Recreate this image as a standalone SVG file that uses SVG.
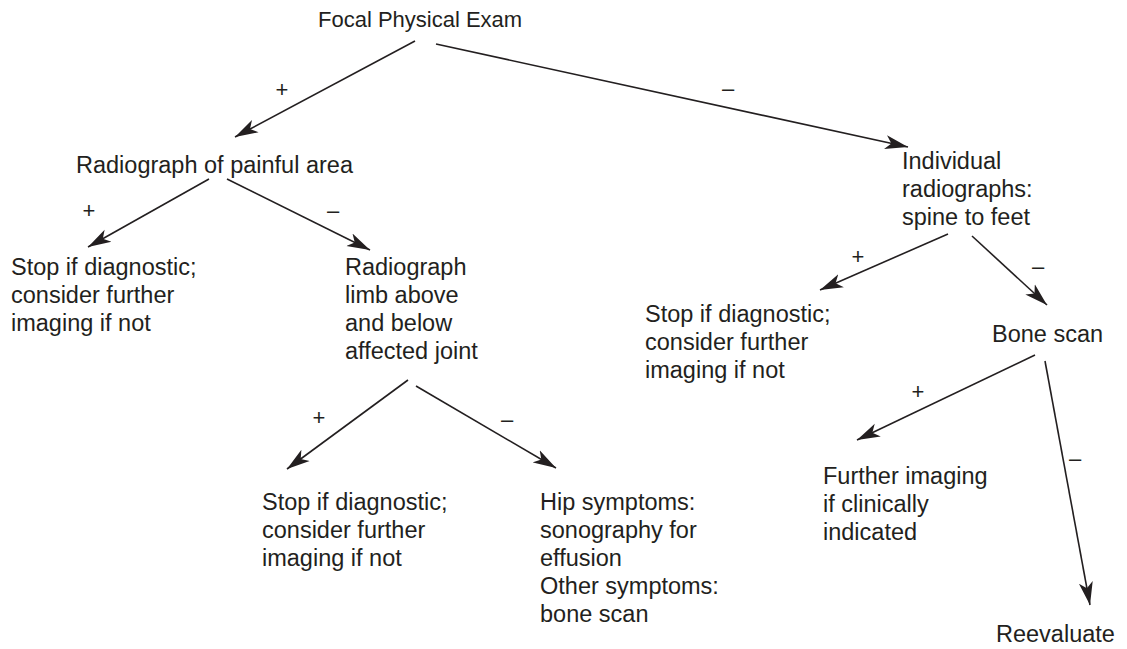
<svg xmlns="http://www.w3.org/2000/svg" width="1127" height="649" viewBox="0 0 1127 649">
  <defs>
    <style>
      .t { font-family: "Liberation Sans", Arial, sans-serif; font-size: 23.5px; fill: #231f20; }
      .l { font-family: "Liberation Sans", Arial, sans-serif; font-size: 22px; fill: #231f20; text-anchor: middle; }
      .c { stroke: #231f20; stroke-width: 1.6; fill: none; }
      .a { marker-end: url(#arr); }
    </style>
    <marker id="arr" markerUnits="userSpaceOnUse" markerWidth="24" markerHeight="16" viewBox="0 0 24 16" refX="23" refY="8" orient="auto">
      <path d="M0,1 L23,8 L0,15 L6,8 z" fill="#231f20"/>
    </marker>
  </defs>
  <rect width="1127" height="649" fill="#ffffff"/>

  <g id="connectors">
    <line class="c a" x1="415" y1="41" x2="235" y2="137"/>
    <line class="c a" x1="436" y1="44" x2="908" y2="147"/>
    <line class="c a" x1="209" y1="179" x2="88" y2="247"/>
    <line class="c a" x1="227" y1="179" x2="370" y2="250"/>
    <line class="c a" x1="408" y1="380" x2="287" y2="469"/>
    <line class="c a" x1="416" y1="386" x2="556" y2="468"/>
    <line class="c a" x1="948" y1="234" x2="820" y2="290"/>
    <line class="c a" x1="972" y1="236" x2="1047" y2="305"/>
    <line class="c a" x1="1035" y1="355" x2="857" y2="440"/>
    <line class="c a" x1="1045" y1="361" x2="1090" y2="605"/>
    <text class="l" x="282" y="97">+</text>
    <text class="l" x="728" y="96">–</text>
    <text class="l" x="89" y="218">+</text>
    <text class="l" x="333" y="218">–</text>
    <text class="l" x="319" y="425">+</text>
    <text class="l" x="507" y="427">–</text>
    <text class="l" x="858" y="264">+</text>
    <text class="l" x="1038" y="274">–</text>
    <text class="l" x="918" y="399">+</text>
    <text class="l" x="1075" y="466">–</text>
  </g>

  <g id="focal-exam">
    <text class="t" x="318" y="27" style="font-size:22px">Focal Physical Exam</text>
  </g>
  <g id="radiograph-painful">
    <text class="t" x="76" y="173">Radiograph of painful area</text>
  </g>
  <g id="stop-1">
    <text class="t" x="11" y="275">Stop if diagnostic;</text>
    <text class="t" x="11" y="303">consider further</text>
    <text class="t" x="11" y="331">imaging if not</text>
  </g>
  <g id="radiograph-limb">
    <text class="t" x="345" y="275">Radiograph</text>
    <text class="t" x="345" y="303">limb above</text>
    <text class="t" x="345" y="331">and below</text>
    <text class="t" x="345" y="359">affected joint</text>
  </g>
  <g id="stop-2">
    <text class="t" x="262" y="510">Stop if diagnostic;</text>
    <text class="t" x="262" y="538">consider further</text>
    <text class="t" x="262" y="566">imaging if not</text>
  </g>
  <g id="hip-symptoms">
    <text class="t" x="540" y="510">Hip symptoms:</text>
    <text class="t" x="540" y="538">sonography for</text>
    <text class="t" x="540" y="566">effusion</text>
    <text class="t" x="540" y="594">Other symptoms:</text>
    <text class="t" x="540" y="622">bone scan</text>
  </g>
  <g id="individual-radiographs">
    <text class="t" x="902" y="169">Individual</text>
    <text class="t" x="902" y="197">radiographs:</text>
    <text class="t" x="902" y="225">spine to feet</text>
  </g>
  <g id="stop-3">
    <text class="t" x="645" y="322">Stop if diagnostic;</text>
    <text class="t" x="645" y="350">consider further</text>
    <text class="t" x="645" y="378">imaging if not</text>
  </g>
  <g id="bone-scan">
    <text class="t" x="992" y="342">Bone scan</text>
  </g>
  <g id="further-imaging">
    <text class="t" x="823" y="484">Further imaging</text>
    <text class="t" x="823" y="512">if clinically</text>
    <text class="t" x="823" y="540">indicated</text>
  </g>
  <g id="reevaluate">
    <text class="t" x="996" y="642">Reevaluate</text>
  </g>
</svg>
